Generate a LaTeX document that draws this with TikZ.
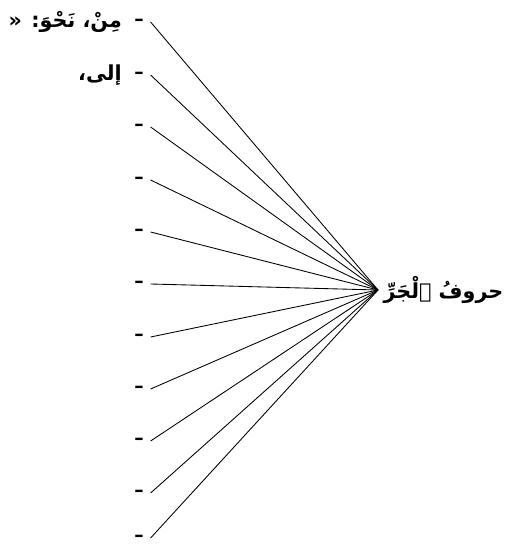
\documentclass[tikz,border=0pt]{standalone}
\usepackage{fontspec}
\usepackage{tikz}
\usetikzlibrary{positioning,calc}
\newfontfamily\arabicfont[Script=Arabic]{DejaVu Sans}
\TeXXeTstate=1

\begin{document}
\begin{tikzpicture}[
        x=0.75pt, y=-0.75pt,
        node distance=2pt,
        every node/.style={font=\arabicfont\bfseries\fontsize{15.5}{18}\selectfont},
        tick/.style={
            font=\arabicfont\bfseries\fontsize{14}{16}\selectfont,
            inner xsep=5pt,
            inner ysep=1pt,
            anchor=center
        },
        label/.style={
            inner sep=0pt,
            anchor=east
        },
        spoke/.style={line width=0.65pt}
    ]

    \useasboundingbox (0,0) rectangle (513,545);

    % the dashes on the left
    \node[tick] (d1) at (139,22) {–};
    \node[tick] (d2) at (139,75) {–};
    \node[tick] (d3) at (139,127) {–};
    \node[tick] (d4) at (139,180) {–};
    \node[tick] (d5) at (139,232) {–};
    \node[tick] (d6) at (139,284) {–};
    \node[tick] (d7) at (139,337) {–};
    \node[tick] (d8) at (139,389) {–};
    \node[tick] (d9) at (139,441) {–};
    \node[tick] (d10) at (139,493) {–};
    \node[tick] (d11) at (139,538) {–};

    \node[label, left=4pt of d1.west] (min) {\beginR مِنْ، نَحْوَ: «\endR};
    \node[label, left=4pt of d2.west] (ila) {\beginR إلى،\endR};

    % the point where all lines meet
    \coordinate (apex) at (378,290);

    \node[anchor=west, inner sep=0pt, right=4pt of apex] (jar) {\beginR حروفُ ٱلْجَرِّ\endR};

    \draw[spoke] (d1.east) -- (apex);
    \draw[spoke] (d2.east) -- (apex);
    \draw[spoke] (d3.east) -- (apex);
    \draw[spoke] (d4.east) -- (apex);
    \draw[spoke] (d5.east) -- (apex);
    \draw[spoke] (d6.east) -- (apex);
    \draw[spoke] (d7.east) -- (apex);
    \draw[spoke] (d8.east) -- (apex);
    \draw[spoke] (d9.east) -- (apex);
    \draw[spoke] (d10.east) -- (apex);
    \draw[spoke] (d11.east) -- (apex);

\end{tikzpicture}
\end{document}
